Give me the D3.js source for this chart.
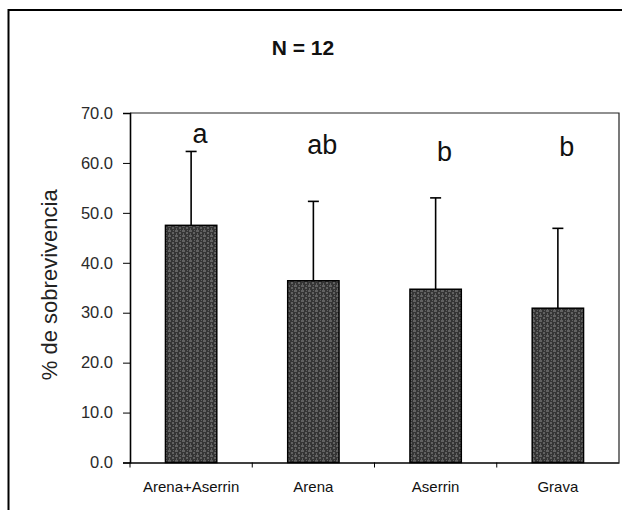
<!DOCTYPE html>
<html>
<head>
<meta charset="utf-8">
<script src="https://cdn.jsdelivr.net/npm/d3@7"></script>
<style>
  html, body { margin: 0; padding: 0; background: #fff; }
  svg { display: block; }
  text { font-family: "Liberation Sans", Arial, sans-serif; }
</style>
</head>
<body>
<svg id="chart" width="622" height="510"></svg>
<script>
// Survival percentage per substrate (mean and upper SD), N = 12
const categories = ["Arena+Aserrin", "Arena", "Aserrin", "Grava"];
const survival = [47.5, 36.4, 34.7, 30.9];
const sd = [14.8, 15.9, 18.3, 16.0];
const groupLetters = ["a", "ab", "b", "b"];
const letterHeights = [63.9, 61.7, 60.3, 61.3];
const yTicks = [0, 10, 20, 30, 40, 50, 60, 70];

const svg = d3.select("#chart");
const plot = { left: 130, right: 619, top: 113, bottom: 462.5 };

// outer frame (top and left edges)
svg.append("path")
  .attr("d", `M8.5,510 L8.5,10 L622,10`)
  .attr("fill", "none").attr("stroke", "#000").attr("stroke-width", 2);

// dark dithered fill for the bars
const defs = svg.append("defs");
const pat = defs.append("pattern")
  .attr("id", "grain").attr("patternUnits", "userSpaceOnUse")
  .attr("width", 7).attr("height", 5);
pat.append("rect").attr("width", 7).attr("height", 5).attr("fill", "#353535");
pat.append("path").attr("d", "M0,1h3M4,3h2M1,4h1M5,0h1")
  .attr("stroke", "#8e8e8e").attr("stroke-width", 1);

const x = d3.scaleBand().domain(categories)
  .range([plot.left, plot.right]).paddingInner(0.58).paddingOuter(0.29);
const xOuter = d3.scaleBand().domain(categories).range([plot.left, plot.right]);
const y = d3.scaleLinear().domain([0, 70]).range([plot.bottom, plot.top]);

// plot frame: top and right
svg.append("path")
  .attr("d", `M${plot.left},${plot.top} H${plot.right} V${plot.bottom}`)
  .attr("fill", "none").attr("stroke", "#222").attr("stroke-width", 1.2);

// bars
svg.append("g").selectAll("rect").data(categories).join("rect")
  .attr("x", d => x(d))
  .attr("y", (d, i) => y(survival[i]))
  .attr("width", x.bandwidth())
  .attr("height", (d, i) => y(0) - y(survival[i]))
  .attr("fill", "url(#grain)")
  .attr("stroke", "#000").attr("stroke-width", 1.5);

// upper error bars
const eb = svg.append("g").attr("stroke", "#000").attr("stroke-width", 1.6);
categories.forEach((c, i) => {
  const cx = x(c) + x.bandwidth() / 2;
  eb.append("line").attr("x1", cx).attr("x2", cx)
    .attr("y1", y(survival[i])).attr("y2", y(survival[i] + sd[i]));
  eb.append("line").attr("x1", cx - 5.5).attr("x2", cx + 5.5)
    .attr("y1", y(survival[i] + sd[i])).attr("y2", y(survival[i] + sd[i]));
});

// significance letters
svg.append("g").selectAll("text").data(groupLetters).join("text")
  .attr("x", (d, i) => x(categories[i]) + x.bandwidth() / 2 + 9)
  .attr("y", (d, i) => y(letterHeights[i]))
  .attr("text-anchor", "middle")
  .attr("font-family", "'DejaVu Sans', sans-serif")
  .attr("font-size", 27)
  .attr("fill", "#111")
  .text(d => d);

// y axis
const yAxis = d3.axisLeft(y).tickValues(yTicks).tickFormat(d3.format(".1f"))
  .tickSize(7).tickPadding(10);
const gy = svg.append("g").attr("transform", `translate(${plot.left},0)`).call(yAxis);
gy.select(".domain").attr("stroke", "#000").attr("stroke-width", 1.6);
gy.selectAll(".tick line").attr("stroke", "#000").attr("stroke-width", 1);
gy.selectAll(".tick text").attr("font-size", 16.5).attr("fill", "#2a2a2a")
  .attr("font-family", "'Liberation Sans', Arial, sans-serif");

// x baseline with ticks between categories
const xAxis = d3.axisBottom(xOuter).tickSize(0).tickFormat("");
const gx = svg.append("g").attr("transform", `translate(0,${plot.bottom})`).call(xAxis);
gx.select(".domain").attr("stroke", "#000").attr("stroke-width", 1.4);
const bounds = [plot.left].concat(categories.slice(1).map(c => xOuter(c)));
gx.selectAll("line.sep").data(bounds).join("line").attr("class", "sep")
  .attr("x1", d => d).attr("x2", d => d).attr("y1", 0).attr("y2", 5)
  .attr("stroke", "#000").attr("stroke-width", 1);

// category labels
svg.append("g").selectAll("text").data(categories).join("text")
  .attr("x", d => xOuter(d) + xOuter.bandwidth() / 2)
  .attr("y", 492)
  .attr("text-anchor", "middle")
  .attr("font-size", 15)
  .attr("fill", "#111")
  .text(d => d);

// y axis title
svg.append("text")
  .attr("transform", `translate(57,${(plot.top + plot.bottom) / 2 - 3}) rotate(-90)`)
  .attr("text-anchor", "middle")
  .attr("font-size", 22)
  .attr("fill", "#222")
  .text("% de sobrevivencia");

// chart title
svg.append("text")
  .attr("x", 303).attr("y", 55)
  .attr("text-anchor", "middle")
  .attr("font-size", 21).attr("font-weight", "bold")
  .attr("fill", "#111")
  .text("N = 12");
</script>
</body>
</html>
